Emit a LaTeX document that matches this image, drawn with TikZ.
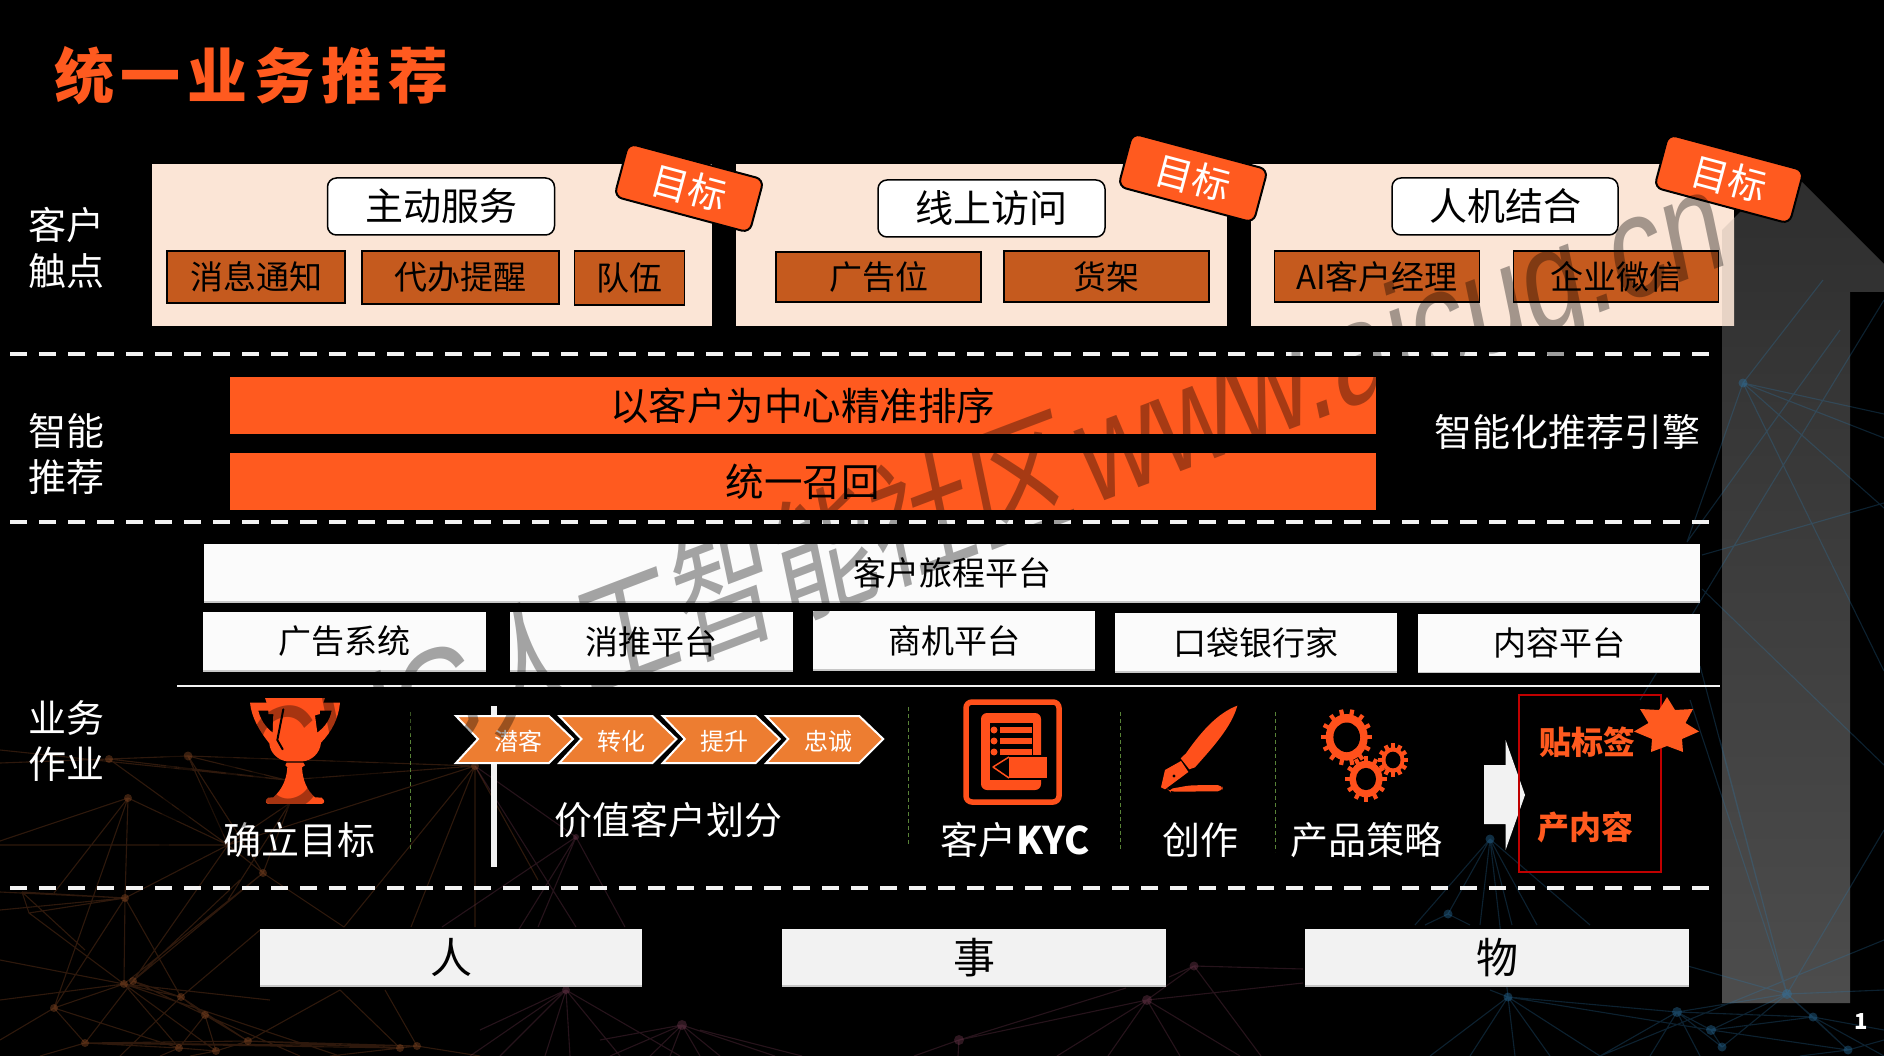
\documentclass[tikz,border=0pt]{standalone}
\usepackage{fontspec}
\setmainfont{Noto Sans CJK SC}
\newfontfamily\wmlatin{Liberation Sans}
\definecolor{hot}{HTML}{FF5A1F}
\definecolor{icon}{HTML}{FF501B}
\definecolor{peach}{HTML}{FBE5D6}
\definecolor{brown}{HTML}{C55A1E}
\definecolor{chev}{HTML}{ED7D31}
\definecolor{pale}{HTML}{F2F2F2}
\definecolor{plat}{HTML}{FBFBFB}
\definecolor{netO}{HTML}{9A5228}
\definecolor{netP}{HTML}{80405A}
\definecolor{netB}{HTML}{2C7AAE}
\newcommand{\fs}[1]{\fontsize{#1}{#1}\selectfont}
\newcommand{\gearicon}[6]{%
  \begin{scope}[shift={(#1,#2)},yscale=1.11]
    \fill[icon] (0,0) circle (#4);
    \pgfmathsetmacro{\gstep}{360/#6}
    \foreach \gi in {1,...,#6}{
      \draw[icon,line width=4.2pt] ({\gi*\gstep}:#4-1) -- ({\gi*\gstep}:#3);
    }
    \fill[black] (0,0) circle (#5);
  \end{scope}}
\tikzset{
  panelbox/.style={fill=peach,draw=none,inner sep=0,outer sep=0},
  pillbox/.style={fill=white,draw=black,line width=1.5pt,rounded corners=9pt,inner sep=0,outer sep=0,font=\fs{38}},
  brownbox/.style={fill=brown,draw=black,line width=1.5pt,inner sep=0,outer sep=0,font=\fs{33}},
  tagbox/.style={fill=hot,draw=black,line width=2pt,rounded corners=8pt,inner sep=0,outer sep=0,rotate=-15,text=white,font=\fs{38},minimum width=140pt,minimum height=55pt},
  barbox/.style={fill=hot,inner sep=0,outer sep=0,font=\fs{38.5}},
  platbox/.style={fill=plat,inner sep=0,outer sep=0,font=\fs{33}},
  basebox/.style={fill=pale,inner sep=0,outer sep=0,font=\fs{42}},
  lbl/.style={text=white,inner sep=0,outer sep=0,font=\fs{38},align=center},
  sideline/.style={pale,line width=4pt,dash pattern=on 17pt off 12pt},
  greenline/.style={draw={rgb,255:red,88;green,130;blue,55},line width=1pt,dash pattern=on 4pt off 3pt},
  chevshape/.style={fill=chev,draw=white,line width=2pt,miter limit=10},
  orangeNet/.style={netO,opacity=.3,line width=1.1pt},
  pinkNet/.style={netP,opacity=.3,line width=1.1pt},
  blueNet/.style={netB,opacity=.28,line width=1.1pt},
}
\begin{document}
\begin{tikzpicture}[x=1pt,y=-1pt]
\useasboundingbox (0,0) rectangle (1884,1056);
\fill[black] (0,0) rectangle (1884,1056);
% grey arrow
\shade[top color=black!82,bottom color=black!70]
  (1722,1003) -- (1722,230) -- (1786,166) -- (1884,264) -- (1884,292) -- (1850,292) -- (1850,1003) -- cycle;
% background network: orange
\coordinate (A) at (109,759); \coordinate (B) at (188,756); \coordinate (C) at (128,798);
\coordinate (D) at (475,766); \coordinate (E) at (263,873); \coordinate (F) at (125,898);
\coordinate (G) at (124,984); \coordinate (H) at (133,981); \coordinate (I) at (181,997);
\coordinate (J) at (54,1008); \coordinate (K) at (205,1015); \coordinate (L) at (85,1043);
\coordinate (M) at (179,1048); \coordinate (N) at (216,1051); \coordinate (O) at (248,1041);
\coordinate (P) at (400,1048); \coordinate (Q) at (417,1046); \coordinate (W) at (228,845);
\coordinate (X) at (290,803); \coordinate (Y) at (286,780); \coordinate (U) at (22,892); \coordinate (V) at (29,913);
\coordinate (R) at (576,837);
\draw[orangeNet] (A)--(B) (A)--(Y) (B)--(Y) (A)--(0,763) (0,750)--(Y) (B)--(D) (Y)--(D)
 (C)--(0,841) (C)--(W) (C)--(54,893) (C)--(F) (A)--(W) (B)--(W) (B)--(E) (W)--(0,845)
 (X)--(W) (X)--(E) (X)--(228,900) (W)--(E) (E)--(H) (E)--(G) (E)--(344,927) (W)--(H) (W)--(F)
 (D)--(344,927) (D)--(411,927) (D)--(475,927) (D)--(W) (D)--(538,880)
 (0,892)--(F) (U)--(F) (V)--(F) (V)--(U) (U)--(85,950) (V)--(G) (F)--(G) (F)--(I) (F)--(0,910) (F)--(J) (C)--(J)
 (G)--(0,1000) (G)--(0,960) (G)--(I) (G)--(J) (H)--(I) (H)--(K) (H)--(L) (G)--(M) (G)--(N) (G)--(270,1000)
 (J)--(L) (J)--(0,1040) (J)--(M) (I)--(K) (K)--(M) (K)--(N) (K)--(O) (L)--(M) (L)--(O) (M)--(N) (N)--(O)
 (L)--(P) (L)--(Q) (O)--(P) (O)--(Q) (P)--(Q) (I)--(260,930) (H)--(240,880)  (G)--(340,1056)
 (P)--(340,990) (Q)--(385,990) (Q)--(480,1056) (P)--(330,1056) (O)--(340,990) (K)--(300,1056) (I)--(O) (I)--(120,1056) (L)--(40,1056) (M)--(160,1056) (N)--(190,1056);
\coordinate (S) at (566,990); \coordinate (T) at (682,1025);
\draw[pinkNet] (D)--(R) (R)--(442,927) (R)--(538,927) (R)--(625,927) (D)--(576,927) (R)--(500,960)
 (S)--(470,1056) (S)--(500,1056) (S)--(545,1056) (S)--(570,1056) (S)--(620,1056) (S)--(680,1056) (S)--(480,1030)
 (T)--(610,1056) (T)--(650,1056) (T)--(670,1056) (T)--(700,1056) (T)--(720,1056) (T)--(775,1056) (T)--(600,1040);
\coordinate (p1) at (1194,966); \coordinate (p2) at (1147,1000); \coordinate (p3) at (959,1040);
\draw[pinkNet] (p3)--(1126,988) (p2)--(p3) (p2)--(p1) (p1)--(1169,977) (p3)--(914,1056) (p3)--(958,1056) (700,1030)--(802,1056)
 (p2)--(1057,1056) (p2)--(1108,1056) (p2)--(1180,1056) (p2)--(1240,1056) (p1)--(1261,1056) (p1)--(1303,969) (p2)--(1303,983);
\coordinate (a) at (1743,383); \coordinate (b) at (1490,839); \coordinate (c) at (1448,914);
\coordinate (d) at (1787,994); \coordinate (e) at (1508,997); \coordinate (f) at (1677,1012);
\coordinate (g) at (1813,1017); \coordinate (h) at (1711,1030); \coordinate (i) at (1848,1050); \coordinate (j) at (1722,1047);
\draw[blueNet] (a)--(1884,414) (a)--(1884,438) (a)--(1884,508) (a)--(1884,671) (a)--(1687,542) (a)--(1823,280)
 (1687,542)--(1840,330) (1702,555)--(1884,503) (1702,589)--(1884,765) (1700,666)--(d) (1884,300)--(1640,700) (1720,740)--(d)
 (d)--(1884,830) (d)--(1884,990) (d)--(f) (d)--(g) (d)--(h) (d)--(i) (d)--(j) (d)--(1690,700) (d)--(1560,930) (f)--(g) (f)--(h) (f)--(j) (g)--(h) (g)--(i) (h)--(i) (h)--(j)
 (b)--(1415,925) (b)--(c) (b)--(e) (b)--(1537,925) (b)--(1590,925) (b)--(1480,925) (b)--(1512,925) (c)--(1425,925) (c)--(1470,925)
 (e)--(1430,1056) (e)--(1470,1056) (e)--(1515,1056) (e)--(1550,1056) (e)--(1600,1056) (e)--(1490,990) (e)--(f) (e)--(h) (1600,1056)--(1884,940)
 (f)--(1600,1056) (f)--(1650,1056) (f)--(1700,1056) (i)--(1800,1056) (i)--(1884,1040) (g)--(1884,1030) (g)--(1884,1056);
\foreach \c/\r in {A/4,B/4.5,C/4,D/4,E/4,F/4,G/4,H/4,I/4,J/4,K/4,L/4,M/4,N/4,O/4,P/4,Q/4}{\fill[netO,opacity=.38] (\c) circle (\r);}
\foreach \c/\r in {S/4,T/5,p1/4.5,p2/5,p3/5,R/3}{\fill[netP,opacity=.36] (\c) circle (\r);}
\foreach \c/\r in {a/4.5,b/4.5,c/4.5,d/5,e/4.5,f/5,g/4.5,h/5,i/4.5,j/4.5}{\fill[netB,opacity=.38] (\c) circle (\r);}
% title
\node[anchor=west,inner sep=0,text=hot,font=\fs{60}\bfseries] (title) at (54,76) {统\hspace{6.8pt}一\hspace{6.8pt}业\hspace{6.8pt}务\hspace{6.8pt}推\hspace{6.8pt}荐};
% section labels
\node[lbl] (l1) at (66,248) {客户\\[8pt]触点};
\node[lbl] (l2) at (66,454) {智能\\[8pt]推荐};
\node[lbl] (l3) at (66,741) {业务\\[8pt]作业};
% panels
\node[panelbox,minimum width=560pt,minimum height=162pt] (pan1) at (432,245) {};
\node[panelbox,minimum width=491pt,minimum height=162pt] (pan2) at (981.5,245) {};
\node[panelbox,minimum width=483pt,minimum height=162pt] (pan3) at (1492.5,245) {};
\fill[black!8!peach] (1722,230) -- (1734,218) -- (1734,326) -- (1722,326) -- cycle;
\node[pillbox,minimum width=227pt,minimum height=57pt] (s1) at (441,206.5) {主动服务};
\node[pillbox,minimum width=227pt,minimum height=57pt] (s2) at (991.5,208.5) {线上访问};
\node[pillbox,minimum width=226pt,minimum height=57pt] (s3) at (1505,206.5) {人机结合};
\node[brownbox,minimum width=178pt,minimum height=52pt] (b1) at (256,277) {消息通知};
\node[brownbox,minimum width=197pt,minimum height=53pt] (b2) at (460.5,277.5) {代办提醒};
\node[brownbox,minimum width=110pt,minimum height=54pt] (b3) at (629.5,278) {队伍};
\node[brownbox,minimum width=205pt,minimum height=50pt] (b4) at (878.5,277) {广告位};
\node[brownbox,minimum width=205pt,minimum height=51pt] (b5) at (1106.5,276.5) {货架};
\node[brownbox,minimum width=205pt,minimum height=51pt] (b6) at (1377,276.5) {AI客户经理};
\node[brownbox,minimum width=205pt,minimum height=51pt] (b7) at (1616,276.5) {企业微信};
\node[tagbox] (t1) at (689,188) {目标};
\node[tagbox] (t2) at (1193,178) {目标};
\node[tagbox] (t3) at (1729,179) {目标};
% dashed separators
\coordinate (d1a) at (10,354); \coordinate (d1b) at (1716,354);
\coordinate (d2a) at (10,522); \coordinate (d2b) at (1716,522);
\coordinate (d3a) at (10,888); \coordinate (d3b) at (1716,888);
\draw[sideline] (d1a) -- (d1b);
\draw[sideline] (d2a) -- (d2b);
\draw[sideline] (d3a) -- (d3b);
% engine
\node[barbox,minimum width=1146.5pt,minimum height=57pt] (r1) at (802.75,405.5) {以客户为中心精准排序};
\node[barbox,minimum width=1146.5pt,minimum height=57pt] (r2) at (802.75,481.5) {统一召回};
\node[lbl] (eng) at (1567,432) {智能化推荐引擎};
% platforms
\node[platbox,minimum width=1496pt,minimum height=58pt] (pf) at (952,573) {客户旅程平台};
\node[platbox,minimum width=283pt,minimum height=59pt] (p1n) at (344.5,641.5) {广告系统};
\node[platbox,minimum width=283pt,minimum height=59pt] (p2n) at (651.5,641.5) {消推平台};
\node[platbox,minimum width=282pt,minimum height=59pt] (p3n) at (954,640.5) {商机平台};
\node[platbox,minimum width=282pt,minimum height=59pt] (p4n) at (1256,642.5) {口袋银行家};
\node[platbox,minimum width=282pt,minimum height=59pt] (p5n) at (1559,643) {内容平台};
\coordinate (ua) at (177,686); \coordinate (ub) at (1720,686);
\draw[pale,line width=2.5pt] (ua) -- (ub);
% trophy
\begin{scope}[shift={(240,690)},x=.3333pt,y=-.3333pt]
  \fill[icon,even odd rule] (75,24) -- (255,24) -- (250,38) -- (300,38)
    .. controls (296,85) and (275,125) .. (243,158) .. controls (240,190) and (215,212) .. (188,214) -- (140,214)
    .. controls (115,210) and (90,190) .. (88,160) .. controls (60,125) and (35,85) .. (30,38) -- (80,38) -- cycle
    (55,62) -- (85,62) -- (85,72) -- (100,72) -- (98,128) .. controls (75,110) and (60,85) .. (55,62) -- cycle
    (225,76) -- (240,72) -- (240,62) -- (275,62) .. controls (270,90) and (255,110) .. (232,128) -- cycle;
  \draw[black,line width=2pt,line cap=round] (130,58) -- (112,150) -- (128,178);
  \fill[icon] (140,218) -- (190,218) -- (195,226) -- (186,232) .. controls (188,270) and (200,300) .. (225,322) -- (245,323) .. controls (255,330) and (255,340) .. (245,342) -- (85,342) .. controls (75,340) and (75,328) .. (85,323) -- (100,322) .. controls (125,300) and (140,270) .. (142,232) -- (136,226) -- cycle;
\end{scope}
\node[lbl] (g1) at (299,840) {确立目标};
\coordinate (v0a) at (410,712); \coordinate (v0b) at (410,850);
\coordinate (v1a) at (908.5,707); \coordinate (v1b) at (908.5,844);
\coordinate (v2a) at (1120,712); \coordinate (v2b) at (1120,850);
\coordinate (v3a) at (1275,712); \coordinate (v3b) at (1275,852);
\draw[greenline] (v0a) -- (v0b);
\draw[greenline] (v1a) -- (v1b);
\draw[greenline] (v2a) -- (v2b);
\draw[greenline] (v3a) -- (v3b);
% post and chevrons
\coordinate (posta) at (494,706); \coordinate (postb) at (494,867);
\draw[pale,line width=5.5pt] (posta) -- (postb);
\foreach \xx/\tt/\nm in {456/潜客/c1,559.4/转化/c2,662.8/提升/c3,766.2/忠诚/c4}{
  \draw[chevshape] (\xx,716) -- ++(93,0) -- ++(24,23) -- ++(-24,24) -- ++(-93,0) -- ++(22,-24) -- cycle;
  \node[text=white,inner sep=0,font=\fs{24}] (\nm) at ({\xx+62},741) {\tt};
}
\node[lbl] (g2) at (668,820) {价值客户划分};
% KYC icon
\draw[icon,line width=5.5pt,rounded corners=6pt] (966,702) rectangle (1059,802);
\fill[icon,rounded corners=6pt] (981,713) rectangle (1041,790);
\fill[black] (990,723) rectangle (1033,780);
\foreach \yy in {730,741,752}{
  \fill[icon] (994,\yy) circle (3.5);
  \fill[icon] (999.5,{\yy-2.8}) rectangle (1032,{\yy+2.8});
}
\fill[black] (1005,755) rectangle (1050,780);
\fill[icon] (1009,757) rectangle (1047,778);
\draw[icon,line width=1.5pt,line join=round] (1009,757) -- (993,767) -- (1009,778);
\node[lbl] (g3) at (1015,840) {客户{\bfseries KYC}};
% pen icon
\begin{scope}[shift={(1150,690)},x=.3333pt,y=-.3333pt]
  \fill[icon] (262,47) .. controls (200,70) and (150,130) .. (108,190) -- (92,205) -- (118,238) -- (135,232) .. controls (190,170) and (245,110) .. (262,47) -- cycle;
  \fill[icon] (93,213) -- (45,240) -- (33,292) -- (45,298) -- (115,246) -- cycle;
  \fill[black] (72,258) circle (5);
  \fill[icon,rounded corners=5pt] (53,298) -- (120,286) -- (218,285) -- (218,304) -- (60,305) -- cycle;
\end{scope}
\node[lbl] (g4) at (1200,840) {创作};
% gears
\gearicon{1346.7}{737.3}{25.5}{21}{13.3}{14}
\gearicon{1366}{779}{20.6}{16.5}{10}{12}
\gearicon{1393}{760}{15}{11.5}{7.5}{12}
\node[lbl] (g5) at (1366,840) {产品策略};
% white arrow and red box
\fill[pale] (1484,765) -- (1505.6,765) -- (1505.6,740) -- (1525,795) -- (1505.6,850) -- (1505.6,824) -- (1484,824) -- cycle;
\node[draw={rgb,255:red,192;green,0;blue,0},line width=2pt,minimum width=142pt,minimum height=177pt,inner sep=0,outer sep=0] (red) at (1590,783.5) {};
\node[text=hot,inner sep=0,font=\fs{32}\bfseries] (tag) at (1587,742) {贴标签};
\node[text=hot,inner sep=0,font=\fs{32}\bfseries] (out) at (1585,827) {产内容};
\fill[hot] (1667,697) -- (1675,710) -- (1693,709) -- (1685.5,723) -- (1699,731.5) -- (1682,739) -- (1683,752) -- (1667,746) -- (1651,752) -- (1652,739) -- (1634,731.5) -- (1648.5,723) -- (1640,709) -- (1659,710) -- cycle;
% base row
\node[basebox,minimum width=382.5pt,minimum height=57pt] (base1) at (451,957.5) {人};
\node[basebox,minimum width=383.5pt,minimum height=57pt] (base2) at (974,957.5) {事};
\node[basebox,minimum width=384pt,minimum height=57pt] (base3) at (1497,957.5) {物};
\foreach \bb in {pf,p1n,p2n,p3n,p4n,p5n,base1,base2,base3}{
  \draw[black!22,line width=1.5pt] (\bb.south west) -- (\bb.south east);
}
\node[text=white,inner sep=0,font=\fs{22}\bfseries] (pg) at (1861,1022) {1};
% watermark
\begin{scope}[yscale=1.35,transform shape]
\node[anchor=base east,rotate=15.7,text=black,opacity=.35,inner sep=0,font=\fs{102}] (wm) at (1731,194.8) {{\wmlatin\fs{109}AICUG}人工智能社区\hspace{10pt}{\wmlatin\fs{109}www.aicug.cn}};
\end{scope}
\end{tikzpicture}
\end{document}
